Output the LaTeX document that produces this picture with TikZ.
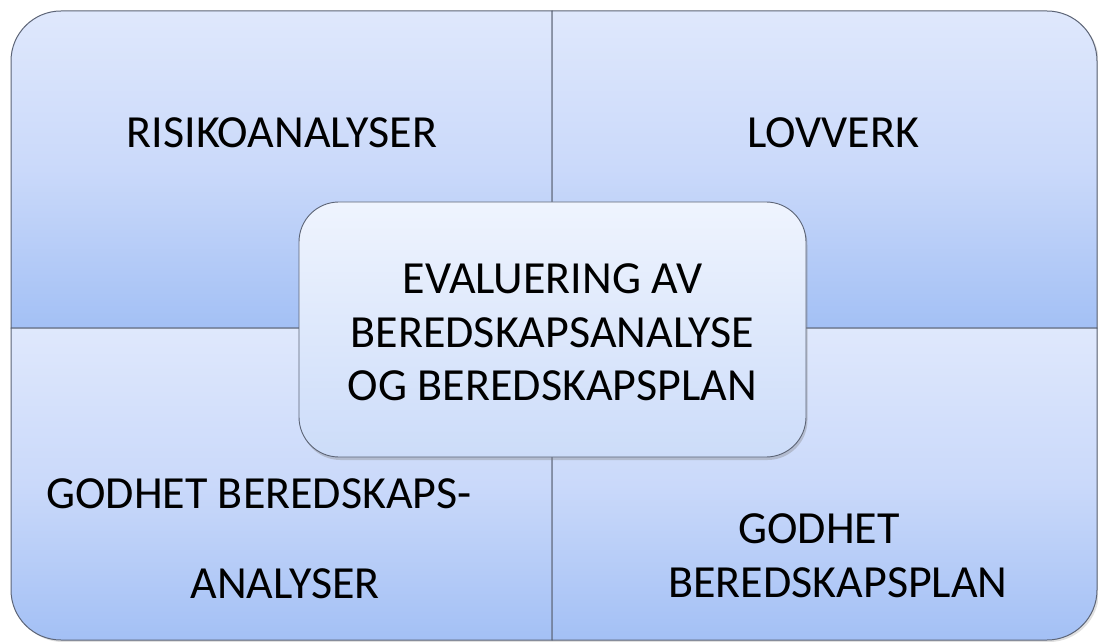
\documentclass[tikz,border=0pt]{standalone}
\usepackage{fontspec}
\setmainfont{Carlito}
\usetikzlibrary{shadows}
\definecolor{tileTop}{HTML}{DFE8FC}
\definecolor{tileMid}{HTML}{CAD9FA}
\definecolor{tileBot}{HTML}{A3C0F5}
\definecolor{hubTop}{HTML}{EFF4FE}
\definecolor{hubBot}{HTML}{CCDCF9}
\definecolor{edge}{HTML}{5C6476}
\begin{document}
\begin{tikzpicture}[x=1pt,y=1pt,
  tile/.style={top color=tileTop, bottom color=tileBot, middle color=tileMid,
    draw=edge, line width=1pt},
  label/.style={anchor=base, inner sep=0pt, font=\fontsize{46}{54}\selectfont, text=black},
  hub/.style={rounded corners=40pt, top color=hubTop, bottom color=hubBot,
    draw=edge, line width=0.9pt,
    drop shadow={opacity=0.35, shadow xshift=1.5pt, shadow yshift=-3pt}}]
\useasboundingbox (0,0) rectangle (1098,641);
% soft shadow behind the whole matrix
\fill[black, opacity=0.12, rounded corners=50pt] (13,-1) rectangle (1099,628);
% four tiles of the matrix, each with one rounded outer corner
\path[tile] (11,313) -- (11,580) arc[start angle=180, end angle=90, radius=50] -- (552,630) -- (552,313) -- cycle;
\path[tile] (552,313) -- (552,630) -- (1047,630) arc[start angle=90, end angle=0, radius=50] -- (1097,313) -- cycle;
\path[tile] (11,313) -- (11,51) arc[start angle=180, end angle=270, radius=50] -- (552,1) -- (552,313) -- cycle;
\path[tile] (552,313) -- (552,1) -- (1047,1) arc[start angle=270, end angle=360, radius=50] -- (1097,313) -- cycle;
% tile captions
\node[label] (risk) at (282,493) {RISIKOANALYSER};
\node[label] (law) at (833,493) {LOVVERK};
\node[label] (gba1) at (259,133) {GODHET BEREDSKAPS-};
\node[label] (gba2) at (285,43) {ANALYSER};
\node[label] (gbp1) at (819,98) {GODHET};
\node[label] (gbp2) at (838,44) {BEREDSKAPSPLAN};
% central hub
\path[hub] (299,184) rectangle (806,439);
\node[label] (hub1) at (552.5,348) {EVALUERING AV};
\node[label] (hub2) at (552.5,294) {BEREDSKAPSANALYSE};
\node[label] (hub3) at (552.5,241) {OG BEREDSKAPSPLAN};
\end{tikzpicture}
\end{document}
